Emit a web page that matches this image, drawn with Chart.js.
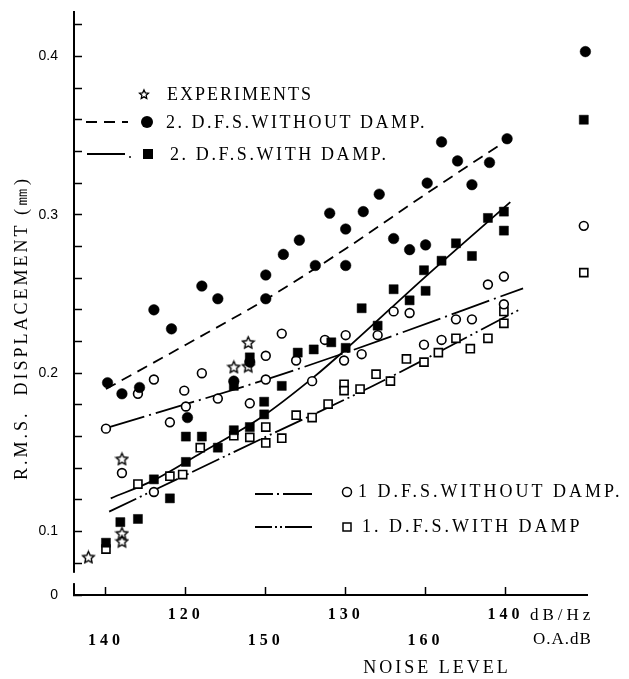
<!DOCTYPE html>
<html>
<head>
<meta charset="utf-8">
<title>RMS displacement vs noise level</title>
<script src="https://cdn.jsdelivr.net/npm/chart.js@4.4.1/dist/chart.umd.min.js"></script>
<style>
    html, body { margin: 0; padding: 0; background: #fff; }
</style>
</head>
<body>
<canvas id="rmsChart" width="629" height="679"></canvas>
<script>
"use strict";

// axis ranges and ticks
const xMin = 113.0, xMax = 145.1;
const yMin = 0.06, yMax = 0.428;
const dbTicks = [115, 120, 125, 130, 135, 140];
const dbLabels = ['', '120', '', '130', '', '140'];
const oaTicks = [115, 125, 135];
const oaLabels = ['140', '150', '160'];
const yTicks = [0.06, 0.08, 0.10, 0.12, 0.14, 0.16, 0.18, 0.20, 0.22, 0.24, 0.26, 0.28, 0.30, 0.32, 0.34, 0.36, 0.38, 0.40, 0.42];
const yLabels = ['0', '', '0.1', '', '', '', '', '0.2', '', '', '', '', '0.3', '', '', '', '', '0.4', ''];

// experiments (stars)
const expX = [113.9, 116.0, 116.0, 116.0, 123.0, 123.9, 123.9];
const expY = [0.084, 0.146, 0.099, 0.094, 0.204, 0.2195, 0.2045];

// 2 D.F.S. without damp (filled circles)
const w2X = [115.1, 116.0, 117.1, 118.0, 119.1, 120.1, 121.0, 122.0, 123.0, 124.0, 125.0, 125.0, 126.1, 127.1, 128.1, 129.0, 130.0, 130.0, 131.1, 132.1, 133.0, 134.0, 135.0, 135.1, 136.0, 137.0, 137.9, 139.0, 140.1, 145.0];
const w2Y = [0.194, 0.187, 0.191, 0.240, 0.228, 0.172, 0.255, 0.247, 0.195, 0.207, 0.262, 0.247, 0.275, 0.284, 0.268, 0.301, 0.291, 0.268, 0.302, 0.313, 0.285, 0.278, 0.281, 0.320, 0.346, 0.334, 0.319, 0.333, 0.348, 0.403];

// 2 D.F.S. with damp (filled squares)
const d2X = [115.0, 115.9, 117.0, 118.0, 119.0, 120.0, 120.0, 121.0, 122.0, 123.0, 123.0, 124.0, 124.0, 124.9, 124.9, 126.0, 127.0, 128.0, 129.1, 130.0, 131.0, 132.0, 133.0, 134.0, 134.9, 135.0, 136.0, 136.9, 137.9, 138.9, 139.9, 139.9, 144.9];
const d2Y = [0.093, 0.106, 0.108, 0.133, 0.121, 0.160, 0.144, 0.160, 0.153, 0.164, 0.192, 0.166, 0.210, 0.182, 0.174, 0.192, 0.213, 0.215, 0.2195, 0.216, 0.241, 0.230, 0.253, 0.246, 0.265, 0.252, 0.271, 0.282, 0.274, 0.298, 0.302, 0.290, 0.360];

// 1 D.F.S. without damp (open circles)
const w1X = [115.0, 116.0, 117.0, 118.0, 118.0, 119.0, 119.9, 120.0, 121.0, 122.0, 124.0, 125.0, 125.0, 126.0, 126.9, 127.9, 128.7, 129.9, 130.0, 131.0, 132.0, 133.0, 134.0, 134.9, 136.0, 136.9, 137.9, 138.9, 139.9, 139.9, 144.9];
const w1Y = [0.165, 0.137, 0.187, 0.196, 0.125, 0.169, 0.189, 0.179, 0.200, 0.184, 0.181, 0.211, 0.196, 0.225, 0.208, 0.195, 0.221, 0.208, 0.224, 0.212, 0.224, 0.239, 0.238, 0.218, 0.221, 0.234, 0.234, 0.256, 0.261, 0.2435, 0.293];

// 1 D.F.S. with damp (open squares)
const d1X = [115.0, 117.0, 119.0, 119.8, 120.9, 123.0, 124.0, 125.0, 125.0, 126.0, 126.9, 127.9, 128.9, 129.9, 129.9, 130.9, 131.9, 132.8, 133.8, 134.9, 135.8, 136.9, 137.8, 138.9, 139.9, 139.9, 144.9];
const d1Y = [0.089, 0.130, 0.135, 0.136, 0.153, 0.1605, 0.1595, 0.166, 0.156, 0.159, 0.1735, 0.172, 0.1805, 0.193, 0.189, 0.190, 0.1994, 0.195, 0.209, 0.207, 0.213, 0.222, 0.2155, 0.222, 0.239, 0.2315, 0.2635];

// fitted curves
const fitW2X = [115.0, 120.0, 125.0, 130.0, 135.0, 140.3];
const fitW2Y = [0.190, 0.218, 0.2466, 0.2786, 0.313, 0.3485];
const fitD2X = [115.3, 118.0, 121.0, 124.7, 128.0, 130.0, 135.0, 140.3];
const fitD2Y = [0.121, 0.1325, 0.150, 0.172, 0.1975, 0.215, 0.261, 0.308];
const fitW1X = [115.0, 125.0, 130.0, 141.1];
const fitW1Y = [0.1653, 0.196, 0.213, 0.2536];
const fitD1X = [115.2, 124.7, 131.5, 141.0];
const fitD1Y = [0.1126, 0.1584, 0.191, 0.2408];

const serif = '"Liberation Serif", "Times New Roman", serif';
const sans = '"Liberation Sans", Arial, sans-serif';

// "utils" pair up x and y lists
function pairs(xs, ys) {
    return xs.map((x, i) => ({ x: x, y: ys[i] }));
}

// "utils" outlined five point star used as point style
function makeStar(size, lw) {
    const c = document.createElement('canvas');
    c.width = c.height = size;
    const g = c.getContext('2d');
    const ro = size / 2 - lw, ri = ro * 0.48;
    g.beginPath();
    for (let i = 0; i < 10; i++) {
        const r = i % 2 ? ri : ro;
        const a = -Math.PI / 2 + i * Math.PI / 5;
        g.lineTo(size / 2 + r * Math.cos(a), size / 2 + 0.6 + r * Math.sin(a));
    }
    g.closePath();
    g.lineWidth = lw;
    g.strokeStyle = '#000';
    g.stroke();
    return c;
}

const starPoint = makeStar(15, 1.4);
const starLegend = makeStar(12, 1.3);

function fitLine(xs, ys, dash) {
    return {
        data: pairs(xs, ys),
        showLine: true,
        borderColor: '#000',
        borderWidth: 1.8,
        borderDash: dash,
        pointRadius: 0,
        tension: 0.4,
        cubicInterpolationMode: 'monotone',
        clip: false
    };
}

// fixed axis boxes, no extra label padding pushed into the layout
function fixBox(size) {
    return (s) => {
        if (s.isHorizontal()) { s.height = size; } else { s.width = size; }
        s.paddingTop = 0;
        s.paddingBottom = 0;
        s.paddingLeft = 0;
        s.paddingRight = 0;
    };
}

// legend, axis titles and unit labels
const paperText = {
    id: 'paperText',
    beforeDraw(chart) {
        const ctx = chart.ctx;
        ctx.save();
        ctx.fillStyle = '#fff';
        ctx.fillRect(0, 0, chart.width, chart.height);
        ctx.restore();
        ctx.letterSpacing = '4px';   // spaced digits on the x axes
    },
    beforeDatasetsDraw(chart) {
        chart.ctx.letterSpacing = '0px';
    },
    afterDraw(chart) {
        const ctx = chart.ctx;
        const ys = chart.scales.y;
        ctx.save();
        ctx.fillStyle = '#000';
        ctx.strokeStyle = '#000';

        // break in the y axis near the bottom
        ctx.fillStyle = '#fff';
        const gTop = ys.getPixelForValue(0.074), gBot = ys.getPixelForValue(0.0675);
        ctx.fillRect(ys.right - 3, gTop, 6, gBot - gTop);
        ctx.fillStyle = '#000';

        function text(str, x, y, size, spacing, align) {
            ctx.font = size + 'px ' + serif;
            ctx.letterSpacing = spacing + 'px';
            ctx.textAlign = align || 'left';
            ctx.textBaseline = 'middle';
            ctx.fillText(str, x, y);
        }
        function seg(x1, x2, y, dash) {
            ctx.beginPath();
            ctx.setLineDash(dash);
            ctx.lineWidth = 1.8;
            ctx.moveTo(x1, y);
            ctx.lineTo(x2, y);
            ctx.stroke();
            ctx.setLineDash([]);
        }

        // upper legend block
        ctx.drawImage(starLegend, 144 - 6, 94 - 6);
        text('EXPERIMENTS', 167, 95, 18, 2);

        seg(86, 128, 122, [11, 7]);
        ctx.beginPath(); ctx.arc(147, 122, 6, 0, Math.PI * 2); ctx.fill();
        text('2. D.F.S.WITHOUT DAMP.', 166, 123, 18, 2.5);

        seg(87, 125, 154, []);
        ctx.beginPath(); ctx.arc(130, 157, 1, 0, Math.PI * 2); ctx.fill();
        ctx.fillRect(143, 149, 10, 10);
        text('2. D.F.S.WITH DAMP.', 170, 155, 18, 2.6);

        // lower legend block
        seg(255, 312, 494, [18, 4, 2, 4, 40]);
        ctx.lineWidth = 1.5;
        ctx.beginPath(); ctx.arc(347, 492, 4.5, 0, Math.PI * 2); ctx.stroke();
        text('1 D.F.S.WITHOUT DAMP.', 358, 492, 18, 3);

        seg(255, 312, 527, [17, 3, 2, 3, 2, 3, 40]);
        ctx.lineWidth = 1.5;
        ctx.strokeRect(343, 523, 8, 8);
        text('1. D.F.S.WITH DAMP', 362, 527, 18, 3);

        // units and axis titles
        text('dB/Hz', 530, 616, 17, 4);
        text('O.A.dB', 533, 640, 17, 1);
        text('NOISE LEVEL', 437, 668, 18, 3, 'center');

        ctx.save();
        ctx.translate(22, 328);
        ctx.rotate(-Math.PI / 2);
        text('R.M.S.  DISPLACEMENT (\u339C)', 0, 0, 18, 3, 'center');
        ctx.restore();

        ctx.restore();
    }
};

new Chart(document.getElementById('rmsChart'), {
    type: 'scatter',
    data: {
        datasets: [
            {
                label: 'EXPERIMENTS',
                data: pairs(expX, expY),
                pointStyle: starPoint,
                pointRadius: 6,
                clip: false
            },
            {
                label: '2. D.F.S. WITHOUT DAMP',
                data: pairs(w2X, w2Y),
                pointStyle: 'circle',
                pointRadius: 5.3,
                backgroundColor: '#000',
                borderColor: '#000',
                borderWidth: 0.5,
                clip: false
            },
            {
                label: '2. D.F.S. WITH DAMP',
                data: pairs(d2X, d2Y),
                pointStyle: 'rect',
                pointRadius: 6.4,
                backgroundColor: '#000',
                borderColor: '#000',
                borderWidth: 0.5,
                clip: false
            },
            {
                label: '1 D.F.S. WITHOUT DAMP',
                data: pairs(w1X, w1Y),
                pointStyle: 'circle',
                pointRadius: 4.4,
                backgroundColor: '#fff',
                borderColor: '#000',
                borderWidth: 1.6,
                clip: false
            },
            {
                label: '1. D.F.S. WITH DAMP',
                data: pairs(d1X, d1Y),
                pointStyle: 'rect',
                pointRadius: 5.7,
                backgroundColor: '#fff',
                borderColor: '#000',
                borderWidth: 1.6,
                clip: false
            },
            fitLine(fitW2X, fitW2Y, [11, 7]),
            fitLine(fitD2X, fitD2Y, []),
            fitLine(fitW1X, fitW1Y, [40, 5, 2, 5]),
            fitLine(fitD1X, fitD1Y, [30, 4, 2, 4, 2, 4])
        ]
    },
    options: {
        responsive: false,
        animation: false,
        layout: { padding: { top: 12, right: 42, bottom: 0, left: 0 } },
        plugins: {
            legend: { display: false },
            tooltip: { enabled: false }
        },
        scales: {
            x: {
                type: 'linear',
                position: 'bottom',
                weight: 0,
                min: xMin,
                max: xMax,
                afterBuildTicks: (s) => { s.ticks = dbTicks.map(v => ({ value: v })); },
                afterFit: fixBox(26),
                border: { display: true, color: '#000', width: 2 },
                grid: { display: true, drawOnChartArea: false, drawTicks: true, tickLength: -8, tickColor: '#000', tickWidth: 1.5 },
                ticks: {
                    autoSkip: false,
                    maxRotation: 0,
                    padding: 18,
                    color: '#000',
                    font: { family: serif, size: 16, weight: 'bold' },
                    callback: (v, i) => dbLabels[i]
                }
            },
            x2: {
                type: 'linear',
                position: 'bottom',
                weight: 1,
                min: xMin,
                max: xMax,
                afterBuildTicks: (s) => { s.ticks = oaTicks.map(v => ({ value: v })); },
                afterFit: fixBox(58),
                border: { display: false },
                grid: { display: false, drawTicks: false },
                ticks: {
                    autoSkip: false,
                    maxRotation: 0,
                    padding: 10,
                    color: '#000',
                    font: { family: serif, size: 16, weight: 'bold' },
                    callback: (v, i) => oaLabels[i]
                }
            },
            y: {
                type: 'linear',
                position: 'left',
                min: yMin,
                max: yMax,
                afterBuildTicks: (s) => { s.ticks = yTicks.map(v => ({ value: v })); },
                afterFit: fixBox(74),
                border: { display: true, color: '#000', width: 2 },
                grid: { display: true, drawOnChartArea: false, drawTicks: true, tickLength: -8, tickColor: '#000', tickWidth: 1.5 },
                ticks: {
                    z: 1,
                    autoSkip: false,
                    padding: 24,
                    color: '#000',
                    font: { family: sans, size: 14 },
                    callback: (v, i) => yLabels[i]
                }
            }
        }
    },
    plugins: [paperText]
});
</script>
</body>
</html>
